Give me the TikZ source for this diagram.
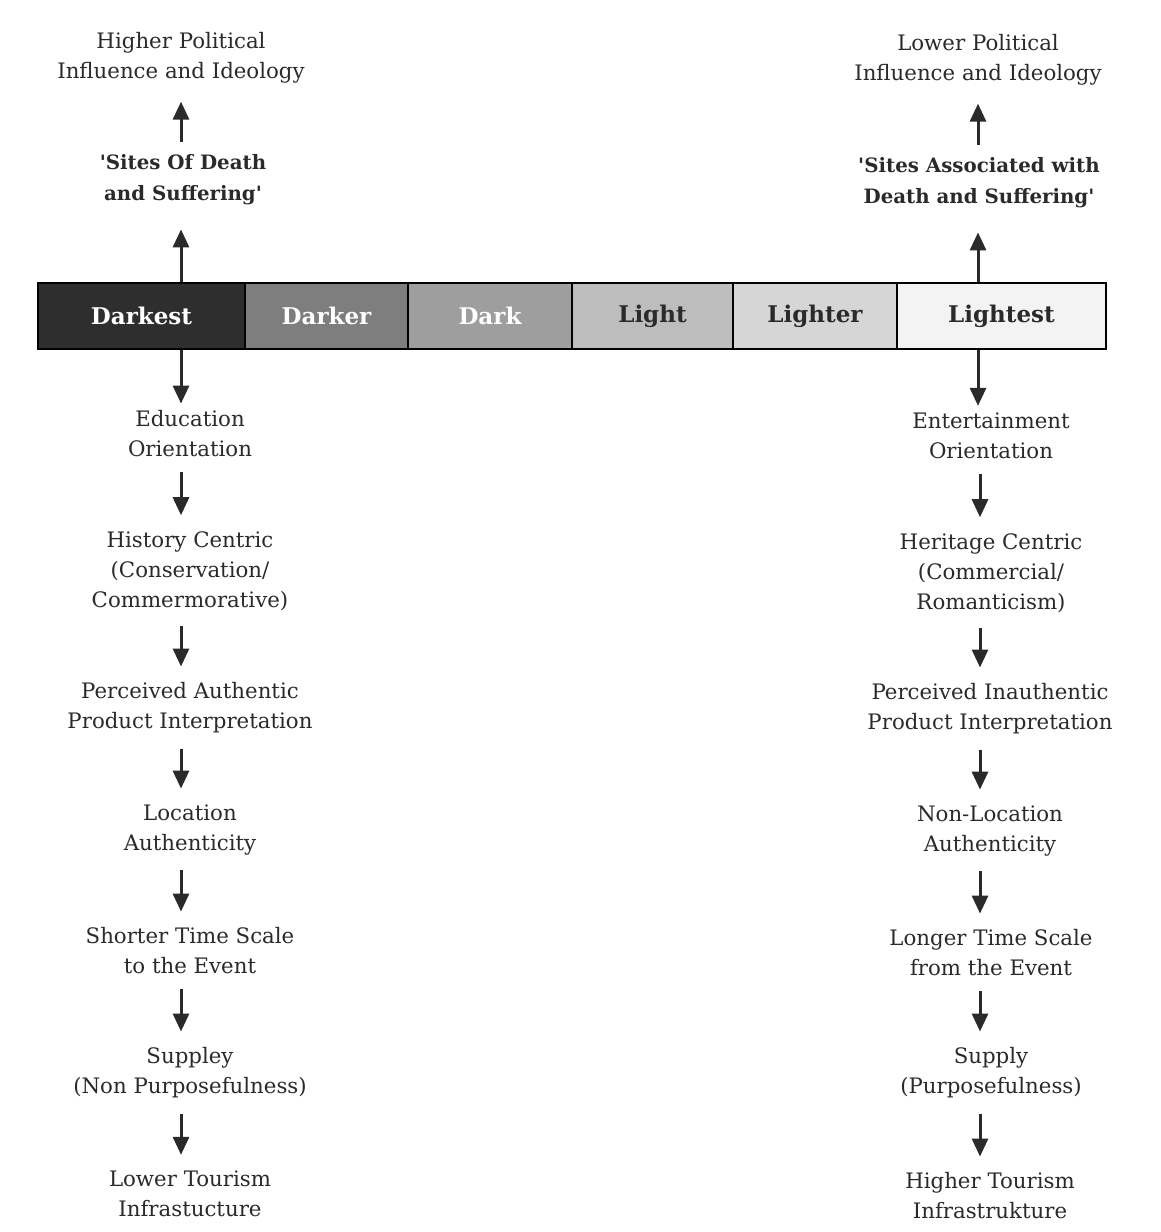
\documentclass[tikz,border=0pt]{standalone}
\usepackage{fontspec}
\setmainfont{DejaVu Serif}
\usetikzlibrary{arrows.meta}
\definecolor{ink}{HTML}{2A2A2A}
\definecolor{c1}{HTML}{2E2E2E}
\definecolor{c2}{HTML}{7E7E7E}
\definecolor{c3}{HTML}{9E9E9E}
\definecolor{c4}{HTML}{BDBDBD}
\definecolor{c5}{HTML}{D6D6D6}
\definecolor{c6}{HTML}{F3F3F3}
\begin{document}
\begin{tikzpicture}[x=1pt,y=-1pt,
  lbl/.style={align=center,text=ink,inner sep=7pt,font=\fontsize{21.3}{30}\selectfont},
  site/.style={align=center,text=ink,inner sep=7pt,font=\fontsize{19.8}{31}\selectfont\bfseries},
  cell/.style={draw=black,line width=1.2pt,minimum height=66pt,inner sep=0pt,font=\fontsize{23}{28}\selectfont\bfseries},
  arr/.style={draw=ink,line width=3pt,-{Triangle[length=18pt,width=16pt]},shorten <=8pt,shorten >=9pt},
  bardown/.style={arr,shorten <=0pt,shorten >=0pt},
  barup/.style={arr,shorten <=0pt,shorten >=17pt},
  topup/.style={arr,shorten <=6pt,shorten >=11pt}]
\useasboundingbox (0,0) rectangle (1161,1232);
% bar
\node[cell,fill=c1,text=white,minimum width=207pt] (k1) at (141.5,316) {Darkest};
\node[cell,fill=c2,text=white,minimum width=163pt] (k2) at (326.5,316) {Darker};
\node[cell,fill=c3,text=white,minimum width=164pt] (k3) at (490,316) {Dark};
\node[cell,fill=c4,text=ink,minimum width=161pt] (k4) at (652.5,316) {Light};
\node[cell,fill=c5,text=ink,minimum width=164pt] (k5) at (815,316) {Lighter};
\node[cell,fill=c6,text=ink,minimum width=209pt] (k6) at (1001.5,316) {Lightest};
\coordinate (lx) at (181,0);
\coordinate (rx) at (978,0);
\coordinate (rx2) at (980,0);
% left column
\node[lbl] (lpol) at (181,58) {Higher Political\\Influence and Ideology};
\node[site] (lsite) at (183,180) {\textquotesingle Sites Of Death\\and Suffering\textquotesingle};
\node[lbl] (l1) at (190,434) {Education\\Orientation};
\node[lbl] (l2) at (190,571) {History Centric\\(Conservation/\\Commermorative)};
\node[lbl] (l3) at (190,708) {Perceived Authentic\\Product Interpretation};
\node[lbl] (l4) at (190,830) {Location\\Authenticity};
\node[lbl] (l5) at (190,951) {Shorter Time Scale\\to the Event};
\node[lbl] (l6) at (190,1073) {Suppley\\(Non Purposefulness)};
\node[lbl] (l7) at (190,1194) {Lower Tourism\\Infrastucture};
% right column
\node[lbl] (rpol) at (978,60) {Lower Political\\Influence and Ideology};
\node[site] (rsite) at (979,183) {\textquotesingle Sites Associated with\\Death and Suffering\textquotesingle};
\node[lbl] (r1) at (991,436) {Entertainment\\Orientation};
\node[lbl] (r2) at (991,573) {Heritage Centric\\(Commercial/\\Romanticism)};
\node[lbl] (r3) at (990,709) {Perceived Inauthentic\\Product Interpretation};
\node[lbl] (r4) at (990,831) {Non-Location\\Authenticity};
\node[lbl] (r5) at (991,953) {Longer Time Scale\\from the Event};
\node[lbl] (r6) at (991,1073) {Supply\\(Purposefulness)};
\node[lbl] (r7) at (990,1196) {Higher Tourism\\Infrastrukture};
% left arrows
\draw[barup] (k1.north -| lx) -- (lsite.south -| lx);
\draw[topup] (lsite.north -| lx) -- (lpol.south -| lx);
\draw[bardown] (k1.south -| lx) -- (l1.north -| lx);
\draw[arr] (l1.south -| lx) -- (l2.north -| lx);
\draw[arr] (l2.south -| lx) -- (l3.north -| lx);
\draw[arr] (l3.south -| lx) -- (l4.north -| lx);
\draw[arr] (l4.south -| lx) -- (l5.north -| lx);
\draw[arr] (l5.south -| lx) -- (l6.north -| lx);
\draw[arr] (l6.south -| lx) -- (l7.north -| lx);
% right arrows
\draw[barup] (k6.north -| rx) -- (rsite.south -| rx);
\draw[topup] (rsite.north -| rx) -- (rpol.south -| rx);
\draw[bardown] (k6.south -| rx) -- (r1.north -| rx);
\draw[arr] (r1.south -| rx2) -- (r2.north -| rx2);
\draw[arr] (r2.south -| rx2) -- (r3.north -| rx2);
\draw[arr] (r3.south -| rx2) -- (r4.north -| rx2);
\draw[arr] (r4.south -| rx2) -- (r5.north -| rx2);
\draw[arr] (r5.south -| rx2) -- (r6.north -| rx2);
\draw[arr] (r6.south -| rx2) -- (r7.north -| rx2);
\end{tikzpicture}
\end{document}
